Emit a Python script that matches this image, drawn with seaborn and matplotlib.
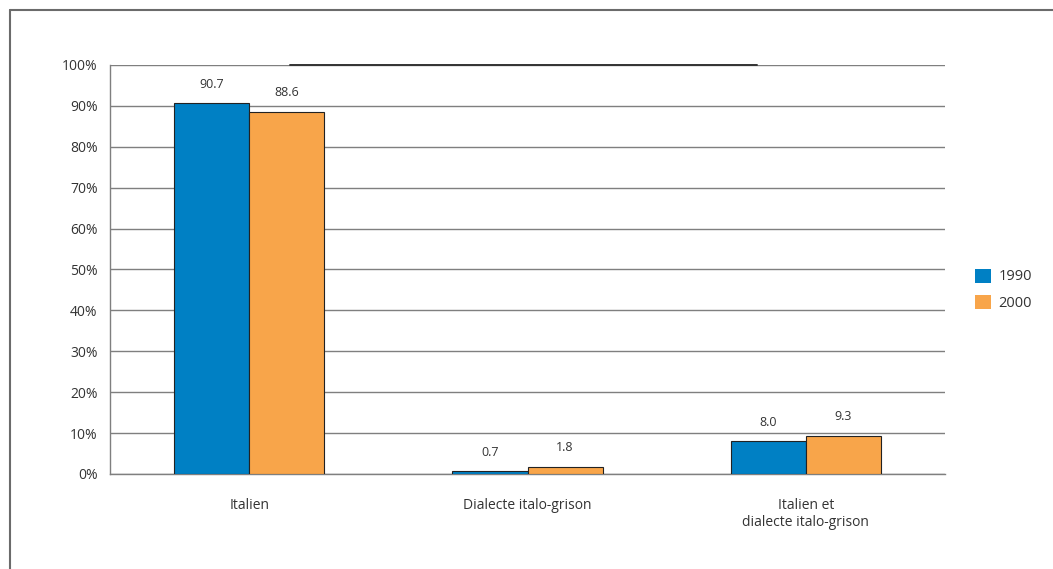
import pandas as pd
import numpy as np
import matplotlib.pyplot as plt
import seaborn as sns
from matplotlib.lines import Line2D
from matplotlib.ticker import PercentFormatter

# Data
categories = ["Italien", "Dialecte italo-grison", "Italien et\ndialecte italo-grison"]
years = ["1990", "2000"]
values_1990 = [90.7, 0.7, 8.0]
values_2000 = [88.6, 1.8, 9.3]

df = pd.DataFrame({
    "categorie": categories * 2,
    "annee": [years[0]] * 3 + [years[1]] * 3,
    "valeur": values_1990 + values_2000,
})

sns.set_style("white")
plt.rcParams['font.family'] = ['Open Sans', 'DejaVu Sans']

fig = plt.figure(figsize=(10.53, 5.69), dpi=100)
ax = fig.add_axes([0.1045, 0.167, 0.7930, 0.7188])

palette = {"1990": "#0080C4", "2000": "#F8A54A"}
sns.barplot(data=df, x="categorie", y="valeur", hue="annee", palette=palette,
            width=0.54, edgecolor="#222222", linewidth=0.8, saturation=1,
            ax=ax, zorder=3)

# Value labels above bars
for cont in ax.containers:
    ax.bar_label(cont, fmt="%.1f", padding=9, fontsize=9, color="#333333")

ax.set_ylim(0, 100)
ax.set_xlim(-0.5, 2.5)
ax.set_yticks(np.arange(0, 101, 10))
ax.yaxis.set_major_formatter(PercentFormatter(decimals=0))
ax.grid(axis="y", color="#7f7f7f", linewidth=1.0, zorder=0)
ax.set_axisbelow(True)

# darker segment on the top gridline
ax.axhline(100, xmin=(290 - 110) / 835, xmax=(757 - 110) / 835,
           color="#333333", linewidth=1.4, zorder=1, clip_on=False)

for s in ["top", "right"]:
    ax.spines[s].set_visible(False)
ax.spines["left"].set_color("#7f7f7f")
ax.spines["bottom"].set_color("#7f7f7f")
ax.spines["left"].set_linewidth(1.0)
ax.spines["bottom"].set_linewidth(1.0)

ax.tick_params(axis="y", which="major", direction="inout", length=6, color="#555555",
               labelsize=10, labelcolor="#333333", pad=6)
ax.tick_params(axis="x", which="major", length=0, labelsize=10, labelcolor="#333333", pad=17)
ax.set_xticks([-0.5, 0.5, 1.5, 2.5], minor=True)
ax.tick_params(axis="x", which="minor", direction="out", length=5, color="#555555")

ax.set_xlabel("")
ax.set_ylabel("")

ax.legend(title=None, frameon=False, loc="center left", bbox_to_anchor=(1.02, 0.45),
          fontsize=10.5, handlelength=1.1, handleheight=1.1, handletextpad=0.5,
          labelspacing=0.75, labelcolor="#333333")
for h in ax.get_legend().legend_handles:
    h.set_edgecolor("none")

# figure frame (left and top)
fig.add_artist(Line2D([10 / 1053, 10 / 1053], [0, 1 - 10 / 569], color="#6b6b6b", linewidth=1.5))
fig.add_artist(Line2D([10 / 1053, 1], [1 - 10 / 569, 1 - 10 / 569], color="#6b6b6b", linewidth=1.5))

fig.savefig("out.png", dpi=100)
